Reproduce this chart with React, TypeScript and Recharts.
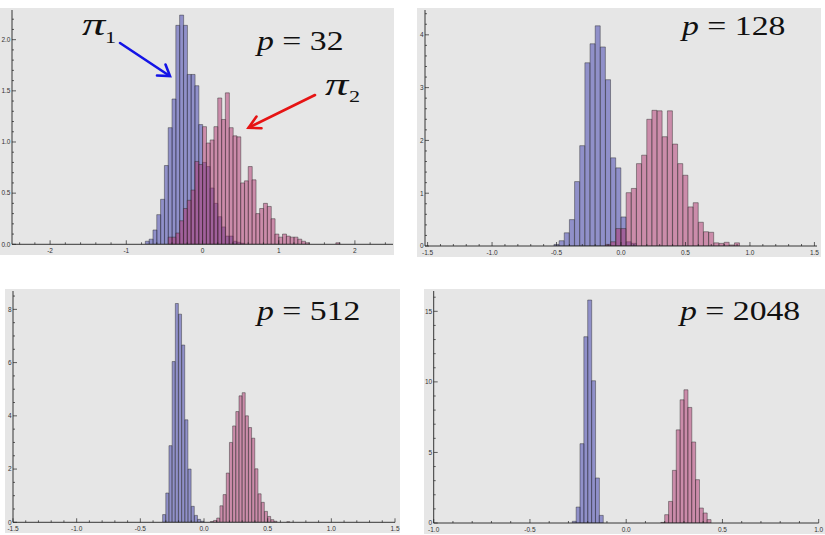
import React from "react";
import { BarChart, Bar, XAxis, YAxis } from "recharts";

// ---- histogram data (density per bin) ----
// p = 32, bins of 0.05 on [-2.5, 2.5]
const p32Grid = { lo: -2.5, width: 0.05, count: 100 };
const p32Pi1Start = -0.75;
const p32Pi1 = [
	0.03, 0.05, 0.14, 0.29, 0.44, 0.77, 1.14, 1.42, 2.14, 2.24, 2.14, 1.66, 1.66,
	1.55, 1.17, 0.8, 0.76, 0.55, 0.4, 0.27, 0.17, 0.08, 0.08, 0.03, 0.02, 0.01,
];
const p32Pi2Start = -0.45;
const p32Pi2 = [
	0.07, 0.07, 0.11, 0.23, 0.35, 0.43, 0.53, 0.81, 0.78, 1.15, 0.99, 1.02, 1.15,
	1.43, 1.22, 1.48, 1.14, 1.06, 1.05, 0.6, 0.62, 0.76, 0.63, 0.3, 0.35, 0.4,
	0.37, 0.25, 0.1, 0.07, 0.1, 0.08, 0.07, 0.07, 0.05, 0.03, 0.015, 0, 0, 0, 0,
	0, 0, 0, 0.015,
];

// p = 128, bins of 0.04
const p128Grid = { lo: -1.52, width: 0.04, count: 76 };
const p128Pi1Start = -0.52;
const p128Pi1 = [
	0.03, 0.1, 0.25, 0.5, 1.22, 1.9, 3.47, 3.83, 4.17, 3.77, 3.15, 1.67, 1.48,
	0.55, 0.08, 0.05,
];
const p128Pi2Start = -0.12;
const p128Pi2 = [
	0.03, 0.08, 0.33, 0.33, 1.01, 1.09, 1.56, 1.72, 2.4, 2.57, 2.56, 2.07, 2.56,
	1.93, 1.56, 1.34, 0.74, 0.82, 0.45, 0.27, 0.26, 0.06, 0.05, 0.07, 0.02, 0.06,
];

// p = 512, bins of 0.025
const p512Grid = { lo: -1.5, width: 0.025, count: 120 };
const p512Pi1Start = -0.325;
const p512Pi1 = [
	0.29, 1.1, 2.88, 6.04, 8.22, 7.82, 6.66, 3.85, 2.0, 0.6, 0.26, 0.11, 0.04,
];
const p512Pi2Start = 0.05;
const p512Pi2 = [
	0.03, 0.07, 0.16, 0.62, 1.04, 1.85, 3.0, 3.62, 4.16, 4.75, 4.87, 4.0, 3.56,
	3.16, 2.01, 1.07, 0.75, 0.41, 0.22, 0.1, 0.04, 0, 0, 0, 0.02,
];

// p = 2048, bins of 0.02
const p2048Grid = { lo: -1, width: 0.02, count: 100 };
const p2048Pi1Start = -0.28;
const p2048Pi1 = [0.12, 1.13, 5.62, 13.2, 15.8, 10.08, 3.19, 0.54];
const p2048Pi2Start = 0.18;
const p2048Pi2 = [
	0.04, 0.59, 1.53, 3.73, 6.6, 8.73, 9.44, 8.19, 5.74, 3.07, 1.06, 0.71, 0.24,
];

// axis labels
const p32XLabels = [-2, -1, 0, 1, 2];
const p32YLabels = [0, 0.5, 1, 1.5, 2];
const p128XLabels = [-1.5, -1, -0.5, 0, 0.5, 1, 1.5];
const p128YLabels = [0, 1, 2, 3, 4];
const p512XLabels = [-1.5, -1, -0.5, 0, 0.5, 1, 1.5];
const p512YLabels = [0, 2, 4, 6, 8];
const p2048XLabels = [-1, -0.5, 0, 0.5, 1];
const p2048YLabels = [0, 5, 10, 15];

const buildRows = (grid, s1Start, s1, s2Start, s2) => {
	const rows = [];
	for (let i = 0; i < grid.count; i++) {
		rows.push({ bin: +(grid.lo + i * grid.width).toFixed(4), pi1: 0, pi2: 0 });
	}
	const k1 = Math.round((s1Start - grid.lo) / grid.width);
	s1.forEach((v, j) => (rows[k1 + j].pi1 = v));
	const k2 = Math.round((s2Start - grid.lo) / grid.width);
	s2.forEach((v, j) => (rows[k2 + j].pi2 = v));
	return rows;
};

const stepTicks = (from, to, step) => {
	const out = [];
	const n = Math.round((to - from) / step);
	for (let i = 0; i <= n; i++) out.push(+(from + i * step).toFixed(4));
	return out;
};

const isMajor = (v, majors) => majors.some((m) => Math.abs(m - v) < 1e-6);

const tickFont = "'Liberation Sans', Arial, sans-serif";

const makeXTick = (majors, digits) => (props) => {
	const { x, y, payload } = props;
	const major = isMajor(payload.value, majors);
	return (
		<g>
			<line x1={x} x2={x} y1={y} y2={y - (major ? 4 : 2)} stroke="#222" strokeWidth={0.7} />
			{major && (
				<text x={x} y={y + 8.5} textAnchor="middle" fontSize={6.5} fontFamily={tickFont} fill="#333">
					{payload.value.toFixed(digits)}
				</text>
			)}
		</g>
	);
};

const makeYTick = (majors, digits) => (props) => {
	const { x, y, payload } = props;
	const major = isMajor(payload.value, majors);
	return (
		<g>
			<line x1={x} x2={x + (major ? 4 : 2)} y1={y} y2={y} stroke="#222" strokeWidth={0.7} />
			{major && (
				<text x={x - 1.5} y={y + 2.3} textAnchor="end" fontSize={6.5} fontFamily={tickFont} fill="#333">
					{payload.value.toFixed(digits)}
				</text>
			)}
		</g>
	);
};

const panels = [
	{
		id: "p32",
		rows: buildRows(p32Grid, p32Pi1Start, p32Pi1, p32Pi2Start, p32Pi2),
		grid: p32Grid,
		bg: { x: 0, y: 8, w: 394, h: 247 },
		plot: { l: 12, t: 10, r: 393, b: 244.3 },
		yMax: 2.29,
		xMajor: p32XLabels, xMinor: stepTicks(-2.4, 2.4, 0.2), xDigits: 0,
		yMajor: p32YLabels, yMinor: stepTicks(0, 2.2, 0.1), yDigits: 1,
	},
	{
		id: "p128",
		rows: buildRows(p128Grid, p128Pi1Start, p128Pi1, p128Pi2Start, p128Pi2),
		grid: p128Grid,
		bg: { x: 417, y: 8, w: 404, h: 249 },
		plot: { l: 425, t: 10, r: 817, b: 246 },
		yMax: 4.47,
		xMajor: p128XLabels, xMinor: stepTicks(-1.5, 1.5, 0.1), xDigits: 1,
		yMajor: p128YLabels, yMinor: stepTicks(0, 4.4, 0.2), yDigits: 0,
	},
	{
		id: "p512",
		rows: buildRows(p512Grid, p512Pi1Start, p512Pi1, p512Pi2Start, p512Pi2),
		grid: p512Grid,
		bg: { x: 5, y: 289, w: 395, h: 244 },
		plot: { l: 13, t: 291, r: 395, b: 522.3 },
		yMax: 8.69,
		xMajor: p512XLabels, xMinor: stepTicks(-1.5, 1.5, 0.1), xDigits: 1,
		yMajor: p512YLabels, yMinor: stepTicks(0, 8.5, 0.5), yDigits: 0,
	},
	{
		id: "p2048",
		rows: buildRows(p2048Grid, p2048Pi1Start, p2048Pi1, p2048Pi2Start, p2048Pi2),
		grid: p2048Grid,
		bg: { x: 424, y: 289, w: 401, h: 245 },
		plot: { l: 433.7, t: 291, r: 818.7, b: 523 },
		yMax: 16.44,
		xMajor: p2048XLabels, xMinor: stepTicks(-1, 1, 0.1), xDigits: 1,
		yMajor: p2048YLabels, yMinor: stepTicks(0, 16, 1), yDigits: 0,
	},
];

const barEdge = { stroke: "#2a2a2a", strokeOpacity: 0.75, strokeWidth: 0.6 };

const Histogram = ({ cfg }) => {
	const { bg, plot, grid, rows, yMax } = cfg;
	const hi = +(grid.lo + grid.count * grid.width).toFixed(4);
	const axisW = plot.l - bg.x;
	const axisH = bg.y + bg.h - plot.b;
	const margin = { left: 0, top: plot.t - bg.y, right: bg.x + bg.w - plot.r, bottom: 0 };
	return (
		<div style={{ position: "absolute", left: bg.x, top: bg.y, width: bg.w, height: bg.h, background: "#e6e6e6" }}>
			<BarChart width={bg.w} height={bg.h} data={rows} margin={margin} barCategoryGap={0} barGap={0}>
				<XAxis
					xAxisId="num"
					type="number"
					dataKey="bin"
					domain={[grid.lo, hi]}
					allowDataOverflow
					ticks={cfg.xMinor}
					interval={0}
					height={axisH}
					tickSize={0}
					tickMargin={0}
					tickLine={false}
					axisLine={{ stroke: "#222", strokeWidth: 0.9 }}
					tick={makeXTick(cfg.xMajor, cfg.xDigits)}
				/>
				<XAxis xAxisId="a" dataKey="bin" hide height={0} />
				<XAxis xAxisId="b" dataKey="bin" hide height={0} />
				<YAxis
					type="number"
					domain={[0, yMax]}
					allowDataOverflow
					ticks={cfg.yMinor}
					interval={0}
					width={axisW}
					tickSize={0}
					tickMargin={0}
					tickLine={false}
					axisLine={{ stroke: "#222", strokeWidth: 0.9 }}
					tick={makeYTick(cfg.yMajor, cfg.yDigits)}
				/>
				<Bar xAxisId="a" dataKey="pi1" fill="rgb(65,65,175)" fillOpacity={0.52} {...barEdge} isAnimationActive={false} />
				<Bar xAxisId="b" dataKey="pi2" fill="rgb(175,50,110)" fillOpacity={0.5} {...barEdge} isAnimationActive={false} />
			</BarChart>
		</div>
	);
};

const serif = "'Liberation Serif', 'Times New Roman', serif";
const panelP = [32, 128, 512, 2048];
const titleSpots = [
	{ x: 257, y: 49.5 },
	{ x: 682, y: 35 },
	{ x: 257, y: 319.5 },
	{ x: 680, y: 319.5 },
];

export default function App() {
	return (
		<div style={{ position: "absolute", left: 0, top: 0, width: 825, height: 535, background: "#fff", overflow: "hidden" }}>
			{panels.map((cfg) => (
				<Histogram key={cfg.id} cfg={cfg} />
			))}
			<svg width={825} height={535} style={{ position: "absolute", left: 0, top: 0, pointerEvents: "none" }}>
				{panelP.map((p, i) => (
					<text
						key={p}
						transform={`translate(${titleSpots[i].x},${titleSpots[i].y}) scale(1.25,1)`}
						fontFamily={serif}
						fontSize={27}
						fill="#111"
					>
						<tspan fontStyle="italic">p</tspan>
						{` = ${p}`}
					</text>
				))}
				{/* pi_1 label and blue arrow */}
				<text transform="translate(82,35) scale(1.5,1)" fontFamily={serif} fontSize={31} fontStyle="italic" fill="#111">π</text>
				<text transform="translate(105,43.3) scale(1.3,1)" fontFamily={serif} fontSize={17} fill="#111">1</text>
				<g stroke="#1414e6" strokeWidth={2.6} strokeLinecap="round" fill="none">
					<line x1={120} y1={43} x2={169} y2={75.5} />
					<polyline points="157,75.5 170,76 165.5,64.5" />
				</g>
				{/* pi_2 label and red arrow */}
				<text transform="translate(325,95) scale(1.5,1)" fontFamily={serif} fontSize={31} fontStyle="italic" fill="#111">π</text>
				<text transform="translate(349,101.7) scale(1.3,1)" fontFamily={serif} fontSize={17} fill="#111">2</text>
				<g stroke="#e61414" strokeWidth={2.6} strokeLinecap="round" fill="none">
					<line x1={315} y1={95} x2={249} y2={127.5} />
					<polyline points="256.5,116.5 248.5,127.7 261.5,128.3" />
				</g>
			</svg>
		</div>
	);
}
